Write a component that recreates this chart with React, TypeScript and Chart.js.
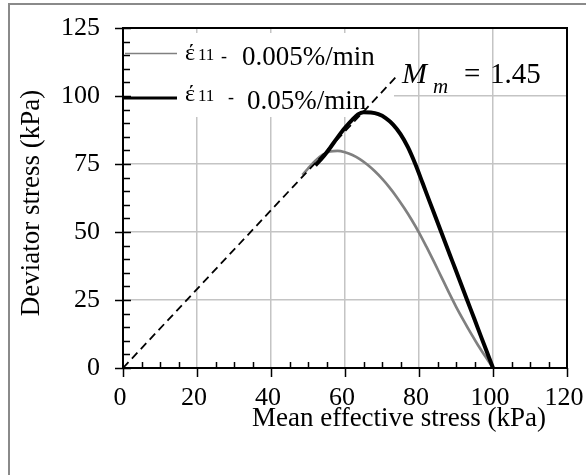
import { useEffect, useRef } from "react";
import { Chart, registerables } from "chart.js";

Chart.register(...registerables);

const SERIF = '"Liberation Serif", "Times New Roman", serif';

// Axis ranges and tick spacing
const xRange = [0, 120];
const yRange = [0, 125];
const xStep = 20;
const yStep = 25;
const minorStep = 5;

// Stress path at 0.005%/min (p', q)
const slowP = [48.5, 50, 52, 54, 56, 58, 60, 62, 64, 66, 68, 70, 72, 74, 76, 78, 80, 82, 84, 86, 88, 90, 92, 94, 96, 98, 100];
const slowQ = [71, 73.3, 76.2, 78.4, 79.6, 79.8, 79.3, 78.3, 76.8, 74.8, 72.4, 69.6, 66.4, 62.8, 58.8, 54.5, 49.8, 44.6, 39.2, 33.6, 28, 22.6, 17.6, 12.8, 8.3, 4.1, 0];

// Stress path at 0.05%/min (p', q)
const fastP = [52, 54, 56, 58, 60, 62, 63.5, 65, 67, 69, 71, 73, 75, 77, 79, 81, 83, 85, 87, 89, 91, 93, 95, 97, 99, 100];
const fastQ = [74.5, 77.5, 81, 84.8, 88.3, 91.3, 93.2, 94, 93.9, 93.3, 91.9, 89.5, 86, 81.2, 75, 67.9, 60.7, 53.6, 46.4, 39.3, 32.2, 25, 17.9, 10.7, 3.6, 0];

// Critical state line q = M p'
const M_CSL = 1.45;
const cslP = [0, 74];

const slowRate = "0.005%/min";
const fastRate = "0.05%/min";
const xTitle = "Mean effective stress (kPa)";
const yTitle = "Deviator stress (kPa)";

const toPts = (xs: number[], ys: number[]) => xs.map((x, i) => ({ x, y: ys[i] }));

const decorations = {
  id: "decorations",
  beforeDatasetsDraw(chart: any) {
    const { ctx, chartArea: a } = chart;
    // white legend panel hides the grid behind the legend
    ctx.save();
    ctx.fillStyle = "#ffffff";
    ctx.fillRect(a.left + 1, a.top + 5, 270, 84);
    ctx.restore();
  },
  afterDatasetsDraw(chart: any) {
    const { ctx, chartArea: a, scales } = chart;
    const xs = scales.x;
    const ys = scales.y;
    ctx.save();
    ctx.strokeStyle = "#000";
    ctx.lineWidth = 2;
    ctx.beginPath();
    ctx.moveTo(a.left, a.top);
    ctx.lineTo(a.right, a.top);
    ctx.lineTo(a.right, a.bottom);
    ctx.lineTo(a.left, a.bottom);
    ctx.closePath();
    ctx.stroke();

    // x ticks: major outward, minor inward
    ctx.lineWidth = 1.5;
    ctx.beginPath();
    for (let v = xRange[0]; v <= xRange[1]; v += minorStep) {
      const px = Math.round(xs.getPixelForValue(v)) + 0.5;
      if (v % xStep === 0) {
        ctx.moveTo(px, a.bottom);
        ctx.lineTo(px, a.bottom + 9);
      } else {
        ctx.moveTo(px, a.bottom);
        ctx.lineTo(px, a.bottom - 6);
      }
    }
    // y ticks: major across the axis, minor inward
    for (let v = yRange[0]; v <= yRange[1]; v += minorStep) {
      const py = Math.round(ys.getPixelForValue(v)) + 0.5;
      if (v % yStep === 0) {
        ctx.moveTo(a.left - 8, py);
        ctx.lineTo(a.left + 8, py);
      } else {
        ctx.moveTo(a.left, py);
        ctx.lineTo(a.left + 7, py);
      }
    }
    ctx.stroke();

    // legend
    const lx = a.left;
    const ty = a.top;
    ctx.lineWidth = 1.6;
    ctx.strokeStyle = "#808080";
    ctx.beginPath();
    ctx.moveTo(lx + 2, ty + 25.5);
    ctx.lineTo(lx + 54, ty + 25.5);
    ctx.stroke();
    ctx.lineWidth = 3;
    ctx.strokeStyle = "#000";
    ctx.beginPath();
    ctx.moveTo(lx, ty + 70);
    ctx.lineTo(lx + 54, ty + 70);
    ctx.stroke();

    ctx.fillStyle = "#000";
    ctx.textBaseline = "alphabetic";
    ctx.textAlign = "left";
    const rows = [
      { base: ty + 32, dash: lx + 98, textX: lx + 119, textBase: ty + 37, label: slowRate },
      { base: ty + 73, dash: lx + 105, textX: lx + 124, textBase: ty + 81, label: fastRate },
    ];
    for (const r of rows) {
      ctx.font = `24px ${SERIF}`;
      ctx.fillText("έ", lx + 62, r.base);
      ctx.font = `17px ${SERIF}`;
      ctx.fillText("11", lx + 75, r.base);
      ctx.font = `18px ${SERIF}`;
      ctx.fillText("-", r.dash, r.base + 2);
      ctx.font = `27px ${SERIF}`;
      ctx.fillText(r.label, r.textX, r.textBase);
    }

    // critical state line label
    ctx.font = `italic 30px ${SERIF}`;
    ctx.fillText("M", 402, 83);
    ctx.font = `italic 21px ${SERIF}`;
    ctx.fillText("m", 433, 93);
    ctx.font = `29px ${SERIF}`;
    ctx.fillText("=", 464, 83);
    ctx.fillText(M_CSL.toFixed(2), 490, 83);
    ctx.restore();
  },
  afterDraw(chart: any) {
    const { ctx } = chart;
    ctx.save();
    ctx.fillStyle = "#000";
    ctx.font = `27px ${SERIF}`;
    ctx.textAlign = "center";
    ctx.textBaseline = "alphabetic";
    ctx.fillText(xTitle, 399, 426);
    ctx.translate(32, 203);
    ctx.rotate(-Math.PI / 2);
    ctx.textBaseline = "middle";
    ctx.fillText(yTitle, 0, 0);
    ctx.restore();

    // outer frame
    ctx.save();
    ctx.strokeStyle = "#8a8a8a";
    ctx.lineWidth = 2;
    ctx.beginPath();
    ctx.moveTo(9, 475);
    ctx.lineTo(9, 4);
    ctx.lineTo(586, 4);
    ctx.stroke();
    ctx.restore();
  },
};

const fixSize = (w: number | null, h: number | null) => (s: any) => {
  if (w !== null) s.width = w;
  if (h !== null) s.height = h;
  s.paddingTop = 0;
  s.paddingBottom = 0;
  s.paddingLeft = 0;
  s.paddingRight = 0;
};

export default function App() {
  const canvasRef = useRef<HTMLCanvasElement | null>(null);

  useEffect(() => {
    const canvas = canvasRef.current;
    if (!canvas) return;
    const gridColor = (c: any) => {
      const v = c.tick?.value;
      return v === undefined || v === c.scale.min || v === c.scale.max ? "rgba(0,0,0,0)" : "#c4c4c4";
    };
    const chart = new Chart(canvas, {
      type: "scatter",
      data: {
        datasets: [
          {
            label: "CSL",
            data: toPts(cslP, cslP.map((p) => p * M_CSL)),
            showLine: true,
            borderColor: "#000",
            borderWidth: 1.8,
            borderDash: [8, 5],
            pointRadius: 0,
            order: 0,
          },
          {
            label: slowRate,
            data: toPts(slowP, slowQ),
            showLine: true,
            borderColor: "#808080",
            borderWidth: 2.7,
            pointRadius: 0,
            cubicInterpolationMode: "monotone",
            order: 2,
          },
          {
            label: fastRate,
            data: toPts(fastP, fastQ),
            showLine: true,
            borderColor: "#000",
            borderWidth: 4,
            pointRadius: 0,
            cubicInterpolationMode: "monotone",
            order: 1,
          },
        ],
      },
      options: {
        responsive: false,
        animation: false,
        devicePixelRatio: 1,
        layout: { padding: { left: 0, top: 28, right: 19, bottom: 0 } },
        plugins: { legend: { display: false }, tooltip: { enabled: false } },
        scales: {
          x: {
            type: "linear",
            min: xRange[0],
            max: xRange[1],
            border: { display: false },
            grid: { color: gridColor, lineWidth: 1.5, drawTicks: false },
            ticks: {
              stepSize: xStep,
              color: "#000",
              padding: 15,
              labelOffset: -3,
              maxRotation: 0,
              font: { family: SERIF, size: 26 },
            },
            afterFit: fixSize(null, 107),
          },
          y: {
            type: "linear",
            min: yRange[0],
            max: yRange[1],
            border: { display: false },
            grid: { color: gridColor, lineWidth: 1.5, drawTicks: false },
            ticks: {
              stepSize: yStep,
              color: "#000",
              padding: 23,
              font: { family: SERIF, size: 26 },
            },
            afterFit: fixSize(123, null),
          },
        },
      },
      plugins: [decorations],
    });
    return () => chart.destroy();
  }, []);

  return (
    <div style={{ position: "fixed", left: 0, top: 0, width: 586, height: 475, background: "#fff" }}>
      <canvas ref={canvasRef} width={586} height={475} />
    </div>
  );
}
